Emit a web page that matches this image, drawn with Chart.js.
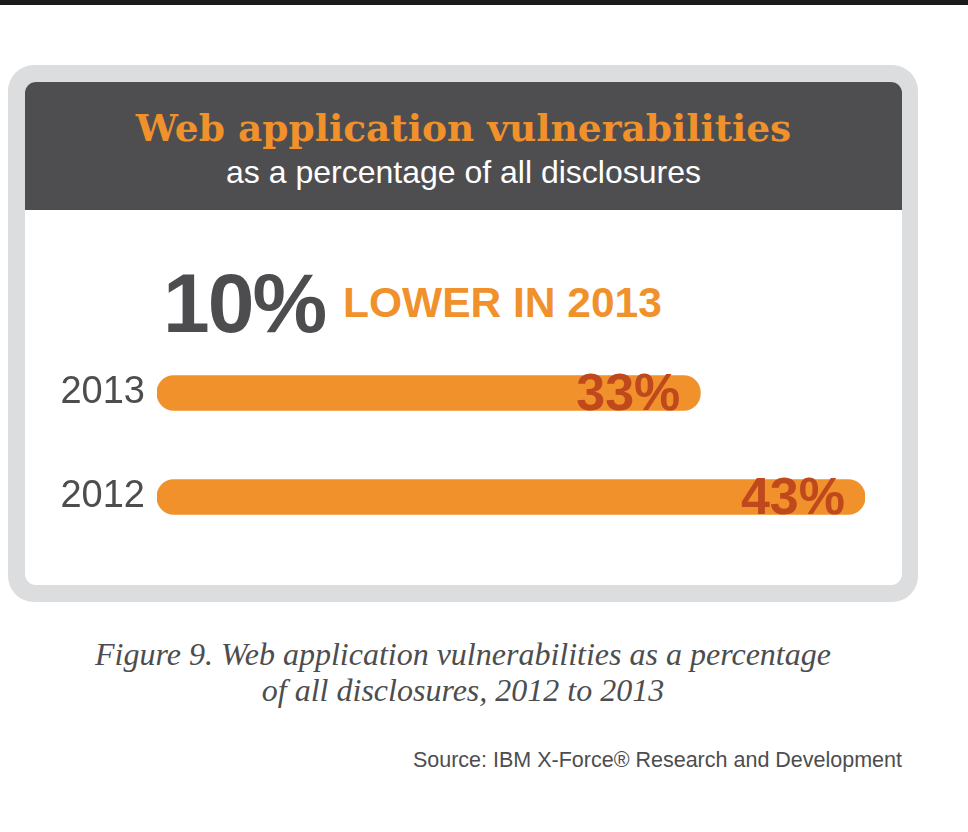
<!DOCTYPE html>
<html>
<head>
<meta charset="utf-8">
<script src="https://cdn.jsdelivr.net/npm/chart.js@4"></script>
<style>
  body { margin: 0; background: #fff; width: 968px; height: 832px; position: relative; overflow: hidden; font-family: "Liberation Sans", Arial, sans-serif; }
  .topbar { position: absolute; left: 0; top: 0; width: 968px; height: 5px; background: #1b1b1b; }
  .frame { position: absolute; left: 8px; top: 65px; width: 910px; height: 537px; background: #dcdddf; border-radius: 26px; }
  .inner { position: absolute; left: 25px; top: 82px; width: 877px; height: 503px; background: #fff; border-radius: 11px; overflow: hidden; }
  .head { position: absolute; left: 0; top: 0; width: 877px; height: 128px; background: #4e4e50; }
  .title { position: absolute; left: 0; width: 877px; top: 24px; text-align: center; color: #f0912b; font: bold 37.5px "DejaVu Serif", serif; }
  .sub { position: absolute; left: 0; width: 877px; top: 72px; text-align: center; color: #fff; font: 32px "Liberation Sans", Arial, sans-serif; }
  .big { position: absolute; left: 163px; top: 255px; color: #4d4d4f; font: bold 84px "Liberation Sans", Arial, sans-serif; letter-spacing: -2px; }
  .lower { position: absolute; left: 343px; top: 279px; color: #f0912b; font: bold 42.5px "Liberation Sans", Arial, sans-serif; }
  #c { position: absolute; left: 0; top: 341px; }
  .caption { position: absolute; left: 0; width: 926px; top: 636px; text-align: center; color: #4d4d4f; font: italic 32px/36px "Liberation Serif", serif; }
  .source { position: absolute; right: 66px; top: 748px; color: #4d4d4f; font: 21.5px "Liberation Sans", Arial, sans-serif; }
</style>
</head>
<body>
<div class="topbar"></div>
<div class="frame"></div>
<div class="inner">
  <div class="head">
    <div class="title">Web application vulnerabilities</div>
    <div class="sub">as a percentage of all disclosures</div>
  </div>
</div>
<div class="big">10%</div>
<div class="lower">LOWER IN 2013</div>
<canvas id="c" width="968" height="208"></canvas>
<div class="caption">Figure 9. Web application vulnerabilities as a percentage<br>of all disclosures, 2012 to 2013</div>
<div class="source">Source: IBM X-Force® Research and Development</div>
<script>
var years = ["2013", "2012"];
var shares = [33, 43];
var shareLabels = ["33%", "43%"];

// draw the % text inside the right end of each bar
var barText = {
  id: "barText",
  afterDatasetsDraw: function (chart) {
    var ctx = chart.ctx;
    var bars = chart.getDatasetMeta(0).data;
    ctx.save();
    ctx.font = "bold 52px 'Liberation Sans', Arial, sans-serif";
    ctx.fillStyle = "#bf491d";
    ctx.textAlign = "right";
    ctx.textBaseline = "alphabetic";
    bars.forEach(function (b, i) {
      ctx.fillText(shareLabels[i], b.x - 20, b.y + 17);
    });
    ctx.restore();
  }
};

var ctx = document.getElementById("c").getContext("2d");
var chart = new Chart(ctx, {
  type: "bar",
  data: {
    labels: years,
    datasets: [
      {
        data: shares,
        backgroundColor: "#f0912b",
        borderSkipped: false,
        borderRadius: 17,
        barThickness: 35
      }
    ]
  },
  options: {
    indexAxis: "y",
    responsive: false,
    animation: false,
    layout: { padding: { left: 0, right: 103, top: 0, bottom: 0 } },
    plugins: { legend: { display: false }, tooltip: { enabled: false } },
    scales: {
      x: { display: false, min: 0, max: 43 },
      y: {
        offset: true,
        grid: { display: false, drawTicks: false, offset: true },
        border: { display: false },
        ticks: {
          padding: 12,
          color: "#4d4d4f",
          font: { family: "'Liberation Sans', Arial, sans-serif", size: 38 }
        },
        afterFit: function (s) {
          s.width = 157;
          s.paddingTop = 0;
          s.paddingBottom = 0;
        }
      }
    }
  },
  plugins: [barText]
});
</script>
</body>
</html>
